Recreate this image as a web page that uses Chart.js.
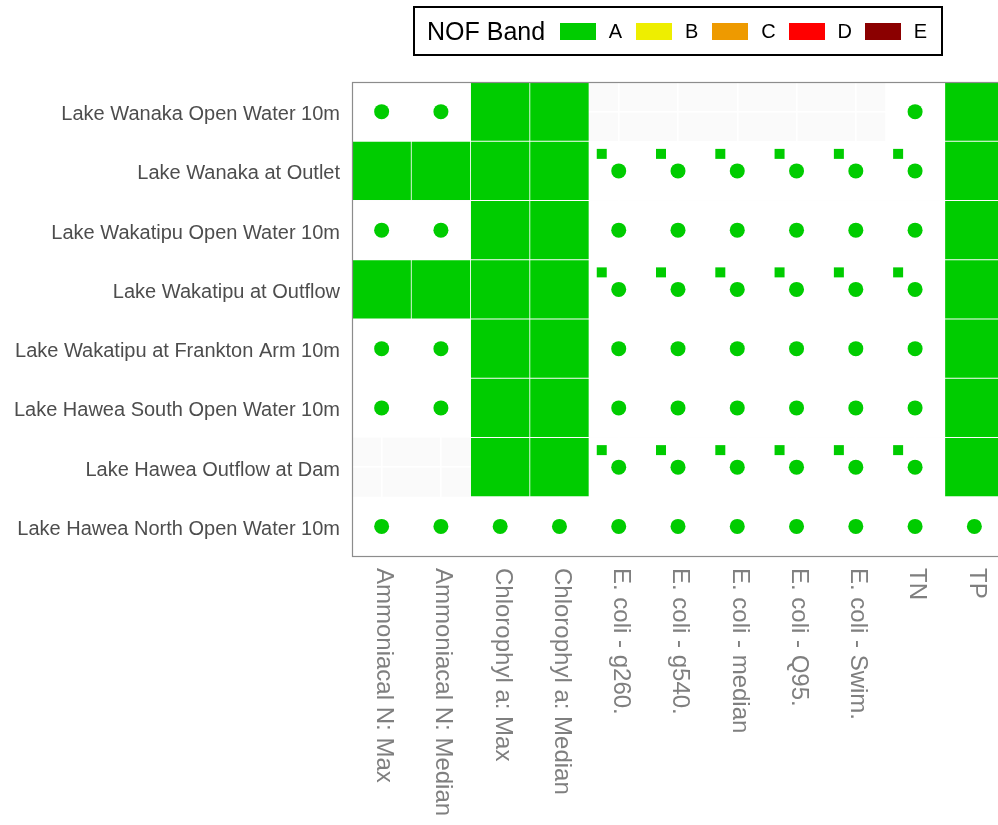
<!DOCTYPE html>
<html>
<head>
<meta charset="utf-8">
<script src="https://cdn.jsdelivr.net/npm/chart.js@4"></script>
<style>
  body { margin: 0; background: #fff; overflow: hidden; }
  #wrap { position: relative; width: 998px; height: 825px; overflow: hidden; }
  #nof { display: block; }
  #legend {
    position: absolute; left: 413px; top: 6px; width: 526px; height: 46px;
    border: 2px solid #000; display: flex; align-items: center;
    font-family: "Liberation Sans", Arial, sans-serif; color: #000;
  }
  #legend .title { font-size: 25px; margin-left: 12px; width: 134px; }
  #legend .item { display: flex; align-items: center; width: 77px; }
  #legend .sw { width: 36px; height: 17px; }
  #legend .lab { font-size: 20px; margin-left: 13px; }
</style>
</head>
<body>
<div id="wrap">
  <canvas id="nof" width="1004" height="825"></canvas>
  <div id="legend"></div>
</div>
<script>
const measures = ['Ammoniacal N: Max', 'Ammoniacal N: Median', 'Chlorophyl a: Max', 'Chlorophyl a: Median',
  'E. coli - g260.', 'E. coli - g540.', 'E. coli - median', 'E. coli - Q95.', 'E. coli - Swim.', 'TN', 'TP'];
const lakes = ['Lake Wanaka Open Water 10m', 'Lake Wanaka at Outlet', 'Lake Wakatipu Open Water 10m',
  'Lake Wakatipu at Outflow', 'Lake Wakatipu at Frankton Arm 10m', 'Lake Hawea South Open Water 10m',
  'Lake Hawea Outflow at Dam', 'Lake Hawea North Open Water 10m'];
const bands = ['A', 'B', 'C', 'D', 'E'];
const bandColours = ['#00CC00', '#EEEE00', '#EE9A00', '#FF0000', '#8B0000'];

// how each cell is shown: T = band tile, P = band point, F = band point with flag, - = no data
const cellKind = [
  'PPTT-----PT',
  'TTTTFFFFFFT',
  'PPTTPPPPPPT',
  'TTTTFFFFFFT',
  'PPTTPPPPPPT',
  'PPTTPPPPPPT',
  '--TTFFFFFFT',
  'PPPPPPPPPPP',
];
// NOF band of each cell
const cellBand = [
  'AAAA-----AA',
  'AAAAAAAAAAA',
  'AAAAAAAAAAA',
  'AAAAAAAAAAA',
  'AAAAAAAAAAA',
  'AAAAAAAAAAA',
  '--AAAAAAAAA',
  'AAAAAAAAAAA',
];

// legend
document.getElementById('legend').innerHTML = '<span class="title">NOF Band</span>' +
  bands.map((b, i) => `<span class="item"><span class="sw" style="background:${bandColours[i]}"></span><span class="lab">${b}</span></span>`).join('');

function flagImage(colour) {
  const c = document.createElement('canvas');
  c.width = 46; c.height = 46;
  const g = c.getContext('2d');
  g.fillStyle = colour;
  g.fillRect(1, 1, 10, 10);
  return c;
}

const datasets = [];
// white tiles behind points
const blank = [];
cellKind.forEach((row, r) => row.split('').forEach((k, c) => {
  if (k === 'P' || k === 'F') blank.push({ x: measures[c], y: [r + 0.5, r + 1.5] });
}));
datasets.push({ type: 'bar', data: blank, backgroundColor: '#fff', borderColor: '#fff', borderWidth: 1,
  borderSkipped: false, grouped: false, categoryPercentage: 1, barPercentage: 1, order: 5 });

bands.forEach((b, bi) => {
  const tiles = [], pts = [], flags = [];
  cellKind.forEach((row, r) => row.split('').forEach((k, c) => {
    if (cellBand[r][c] !== b) return;
    if (k === 'T') tiles.push({ x: measures[c], y: [r + 0.5, r + 1.5] });
    if (k === 'P' || k === 'F') pts.push({ x: measures[c], y: r + 1 });
    if (k === 'F') flags.push({ x: measures[c], y: r + 1 });
  }));
  datasets.push({ type: 'bar', label: b, data: tiles, backgroundColor: bandColours[bi],
    borderColor: 'rgba(255,255,255,0.4)', borderWidth: 0.75, borderSkipped: false,
    grouped: false, categoryPercentage: 1, barPercentage: 1, order: 4 });
  datasets.push({ type: 'scatter', label: b, data: pts, pointStyle: 'circle', pointRadius: 7.5,
    backgroundColor: bandColours[bi], borderWidth: 0, order: 1 });
  datasets.push({ type: 'scatter', label: b, data: flags, pointStyle: flagImage(bandColours[bi]),
    order: 0 });
});

const panelPlugin = {
  id: 'panel',
  beforeDraw(chart) {
    const { ctx, chartArea: a } = chart;
    ctx.save();
    ctx.fillStyle = '#FAFAFA';
    ctx.fillRect(a.left, a.top, a.right - a.left, a.bottom - a.top);
    ctx.restore();
  },
  afterDraw(chart) {
    const { ctx, chartArea: a } = chart;
    const xs = chart.scales.x;
    ctx.save();
    ctx.strokeStyle = '#8C8C8C';
    ctx.lineWidth = 1.2;
    ctx.strokeRect(a.left + 0.5, a.top + 0.5, a.right - a.left, a.bottom - a.top);
    // x labels, rotated clockwise
    ctx.font = '24px "Liberation Sans", Arial, sans-serif';
    ctx.fillStyle = '#7F7F7F';
    ctx.textAlign = 'left';
    ctx.textBaseline = 'middle';
    measures.forEach((m, i) => {
      ctx.save();
      ctx.translate(xs.getPixelForTick(i) + 2, xs.top + 12);
      ctx.rotate(Math.PI / 2);
      ctx.fillText(m, 0, 0);
      ctx.restore();
    });
    ctx.restore();
  }
};

new Chart(document.getElementById('nof'), {
  type: 'bar',
  data: { labels: measures, datasets },
  options: {
    responsive: false,
    animation: false,
    events: [],
    layout: { autoPadding: false, padding: { top: 82, left: 0, right: 0, bottom: 0 } },
    plugins: { legend: { display: false }, tooltip: { enabled: false } },
    scales: {
      x: {
        type: 'category',
        labels: measures,
        offset: true,
        grid: { color: '#fff', lineWidth: 1.5, offset: false, drawTicks: false },
        border: { display: false },
        ticks: { display: false },
        afterFit: s => { s.height = 269; }
      },
      y: {
        type: 'linear',
        min: 0.5, max: 8.5,
        reverse: true,
        afterBuildTicks: s => { s.ticks = lakes.map((_, i) => ({ value: i + 1 })); },
        grid: { color: '#fff', lineWidth: 1.5, drawTicks: false },
        border: { display: false },
        ticks: {
          callback: v => lakes[v - 1],
          color: '#4D4D4D',
          padding: 12,
          labelOffset: 3,
          font: { family: '"Liberation Sans", Arial, sans-serif', size: 20 }
        },
        afterFit: s => { s.width = 352; }
      }
    }
  },
  plugins: [panelPlugin]
});
</script>
</body>
</html>
